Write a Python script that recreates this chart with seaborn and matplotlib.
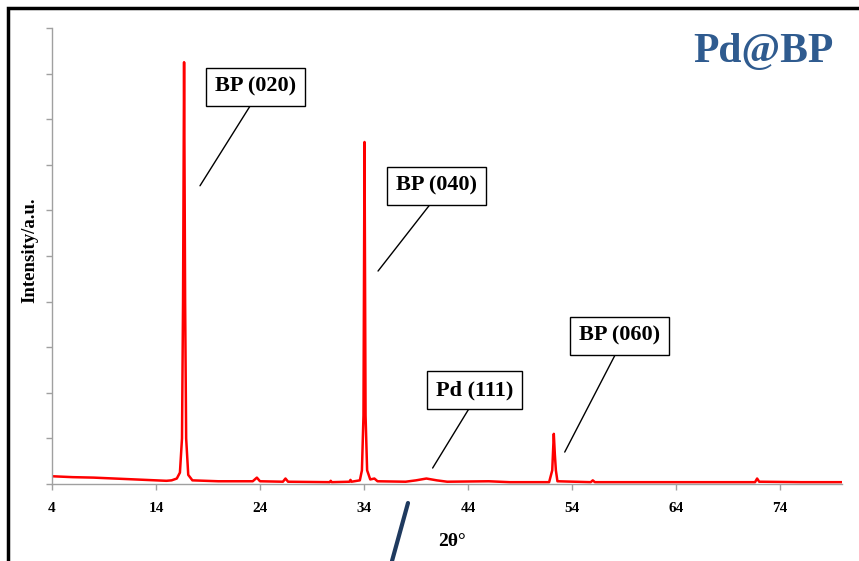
import matplotlib
matplotlib.use("Agg")
import matplotlib.pyplot as plt
import seaborn as sns
import pandas as pd
from matplotlib.lines import Line2D
from matplotlib.patches import Rectangle

# ---- data ----
two_theta = [4.0, 5.0, 6.0, 8.0, 10.0, 12.0, 14.0, 15.0, 15.5, 16.0, 16.3, 16.5, 16.6, 16.7, 16.8, 16.9, 17.1, 17.5,
             20.0, 23.3, 23.7, 24.0, 26.2, 26.45, 26.7, 30.7, 30.8, 30.9, 32.6, 32.7, 32.8, 33.6, 33.8, 33.95, 34.05,
             34.15, 34.3, 34.6, 35.0, 35.3, 38.0, 39.0, 40.0, 41.0, 42.0, 46.0, 48.0, 51.8, 52.1, 52.25, 52.35, 52.45,
             52.6, 55.8, 56.0, 56.2, 60.0, 71.6, 71.8, 72.0, 76.0, 80.0]
intensity = [0.17, 0.16, 0.15, 0.14, 0.12, 0.10, 0.08, 0.07, 0.08, 0.12, 0.25, 1.0, 4.0, 9.25, 4.0, 1.0, 0.2, 0.08,
             0.06, 0.06, 0.14, 0.06, 0.05, 0.12, 0.05, 0.04, 0.07, 0.04, 0.05, 0.09, 0.05, 0.08, 0.3, 1.5, 7.5,
             1.5, 0.3, 0.1, 0.12, 0.06, 0.05, 0.08, 0.12, 0.08, 0.05, 0.06, 0.04, 0.04, 0.3, 1.1, 0.65, 0.3,
             0.06, 0.04, 0.08, 0.04, 0.04, 0.04, 0.12, 0.05, 0.04, 0.04]
x_ticks = [4, 14, 24, 34, 44, 54, 64, 74]
peak_labels = ["BP (020)", "BP (040)", "Pd (111)", "BP (060)"]
label_points = [(18.23, 6.54), (35.35, 4.67), (40.6, 0.35), (53.3, 0.70)]
label_boxes = [(23.6, 8.71), (41.0, 6.54), (44.6, 2.06), (58.6, 3.25)]

df = pd.DataFrame({"two_theta": two_theta, "intensity": intensity})

sns.set_style("white")
serif = ["Liberation Serif", "DejaVu Serif"]
plt.rcParams["font.family"] = serif
plt.rcParams["text.color"] = "black"
plt.rcParams["xtick.labelcolor"] = "black"

fig = plt.figure(figsize=(8.59, 5.61), dpi=100)
ax = fig.add_axes([52 / 859, 77 / 561, 790.4 / 859, 456 / 561])

sns.lineplot(data=df, x="two_theta", y="intensity", ax=ax, color="#FF0000", linewidth=1.8, sort=False)

ax.set_xlim(4, 80)
ax.set_ylim(0, 10)
ax.set_xticks(x_ticks)
ax.set_xticklabels([str(t) for t in x_ticks], fontsize=11, fontweight="bold", color="black")
ax.set_yticks(range(0, 11))
ax.set_yticklabels([])
ax.tick_params(axis="both", direction="out", length=4, width=1, color="#A0A0A0",
               bottom=True, left=True)
ax.tick_params(axis="x", pad=9)
for s in ["top", "right"]:
    ax.spines[s].set_visible(False)
for s in ["left", "bottom"]:
    ax.spines[s].set_color("#A0A0A0")
    ax.spines[s].set_linewidth(1)
ax.set_xlabel("")
ax.set_ylabel("")

for text, pt, box in zip(peak_labels, label_points, label_boxes):
    ax.annotate(text, xy=pt, xytext=box, textcoords="data", ha="center", va="center",
                fontsize=16, fontweight="bold", color="black",
                bbox=dict(boxstyle="square,pad=0.4", fc="white", ec="black", lw=1),
                arrowprops=dict(arrowstyle="-", color="black", lw=1, relpos=(0.5, 0), shrinkA=0, shrinkB=0))

fig.text(763 / 859, 1 - 52 / 561, "Pd@BP", color="#2F5B8F", fontsize=30, fontweight="bold",
         ha="center", va="center")
fig.text(30 / 859, 1 - 250 / 561, "Intensity/a.u.", rotation=90, fontsize=13.5, fontweight="bold",
         ha="center", va="center", color="black")
fig.text(452 / 859, 1 - 542 / 561, "2θ°", fontsize=14, fontweight="bold", ha="center", va="center",
         color="black")

fig.add_artist(Line2D([408 / 859, 392 / 859], [1 - 503 / 561, 1 - 561 / 561], color="#1F3A5F", lw=3))
fig.add_artist(Rectangle((8 / 859, -0.05), 1.1, 1 - 8 / 561 + 0.05, fill=False, ec="black", lw=2.5,
                         transform=fig.transFigure))

fig.savefig("out.png", dpi=100)
